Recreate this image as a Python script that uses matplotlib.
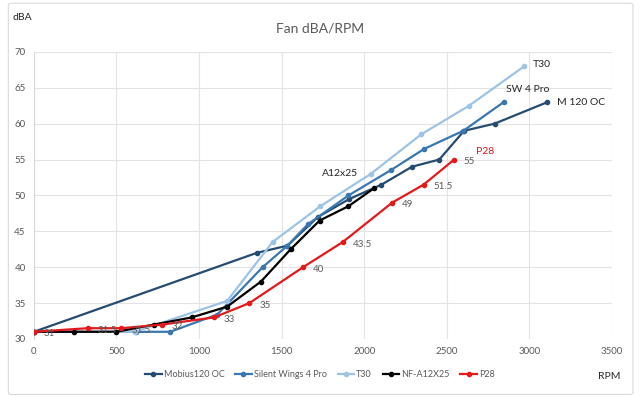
import matplotlib
matplotlib.use("Agg")
import matplotlib.pyplot as plt
from matplotlib.patches import FancyBboxPatch

plt.rcParams["font.family"] = ["Lato", "DejaVu Sans"]

# fan curves: RPM vs dBA
mobius_rpm = [0, 1350, 1535, 1720, 1910, 2105, 2290, 2455, 2605, 2790, 3110]
mobius_dba = [31, 42, 43, 47, 49.5, 51.5, 54, 55, 59, 60, 63]

sw4_rpm = [0, 620, 825, 1110, 1385, 1535, 1660, 1905, 2160, 2365, 2600, 2845]
sw4_dba = [31, 31, 31, 33.4, 40, 43, 46, 50, 53.5, 56.5, 59, 63]

t30_rpm = [0, 610, 1170, 1445, 1735, 2040, 2345, 2635, 2970]
t30_dba = [31, 31, 35.3, 43.5, 48.5, 53, 58.5, 62.5, 68]

nf_rpm = [0, 245, 500, 725, 955, 1170, 1375, 1555, 1730, 1905, 2060]
nf_dba = [31, 31, 31, 32, 33, 34.5, 38, 42.5, 46.5, 48.5, 51]

p28_rpm = [0, 325, 530, 775, 1090, 1305, 1630, 1870, 2170, 2360, 2545]
p28_dba = [31, 31.5, 31.5, 32, 33, 35, 40, 43.5, 49, 51.5, 55]
p28_labels = ["31", "31.5", "31.5", "32", "33", "35", "40", "43.5", "49", "51.5", "55"]

series = [
    ("Mobius120 OC", mobius_rpm, mobius_dba, "#264b70"),
    ("Silent Wings 4 Pro", sw4_rpm, sw4_dba, "#3a77b0"),
    ("T30", t30_rpm, t30_dba, "#9dc3e6"),
    ("NF-A12X25", nf_rpm, nf_dba, "#000000"),
    ("P28", p28_rpm, p28_dba, "#e3191c"),
]

grey = "#595959"

fig = plt.figure(figsize=(6.4, 3.96), dpi=100)
fig.patches.append(FancyBboxPatch((0.013, 0.004), 0.976, 0.988,
                                  boxstyle="round,pad=0,rounding_size=0.005",
                                  transform=fig.transFigure, fill=False,
                                  edgecolor="#d9d9d9", linewidth=0.8))
ax = fig.add_axes([0.053, 0.144, 0.903, 0.725])

for name, x, y, color in series:
    ax.plot(x, y, color=color, linewidth=1.6, marker="o", markersize=3,
            label=name, zorder=3)

# data labels on the P28 curve
for x, y, lab in zip(p28_rpm, p28_dba, p28_labels):
    ax.annotate(lab, (x, y), xytext=(7, -1.5), textcoords="offset points",
                fontsize=7, color=grey, va="center", ha="left")

# series name tags
ax.text(3020, 68.2, "T30", fontsize=7.5, color="#262626", va="center")
ax.text(2990, 64.8, "SW 4 Pro", fontsize=7.5, color="#262626", va="center", ha="center")
ax.text(3170, 62.9, "M 120 OC", fontsize=7.5, color="#262626", va="center")
ax.text(1745, 53.0, "A12x25", fontsize=7.5, color="#262626", va="center")
ax.text(2675, 56.1, "P28", fontsize=7.5, color="#e3191c", va="center")

ax.set_xlim(0, 3500)
ax.set_ylim(30, 70)
ax.set_xticks(range(0, 3501, 500))
ax.set_yticks(range(30, 71, 5))
ax.grid(True, color="#e3e3e3", linewidth=0.8, zorder=0)
ax.set_axisbelow(True)
for side in ["top", "right", "bottom"]:
    ax.spines[side].set_visible(False)
ax.spines["left"].set_color("#d9d9d9")
ax.tick_params(length=0, labelsize=7, labelcolor=grey, pad=6)

fig.text(0.5, 0.928, "Fan dBA/RPM", ha="center", va="center", fontsize=10, color=grey)
fig.text(0.019, 0.957, "dBA", ha="left", va="center", fontsize=7.5, color="#262626")
fig.text(0.97, 0.048, "RPM", ha="right", va="center", fontsize=7.5, color="#262626")

fig.legend(loc="center", bbox_to_anchor=(0.5, 0.055), ncol=5, frameon=False,
           fontsize=6.5, labelcolor=grey, handlelength=1.8, columnspacing=1.2,
           handletextpad=0.25)

fig.savefig("out.png", dpi=100, facecolor="white")
